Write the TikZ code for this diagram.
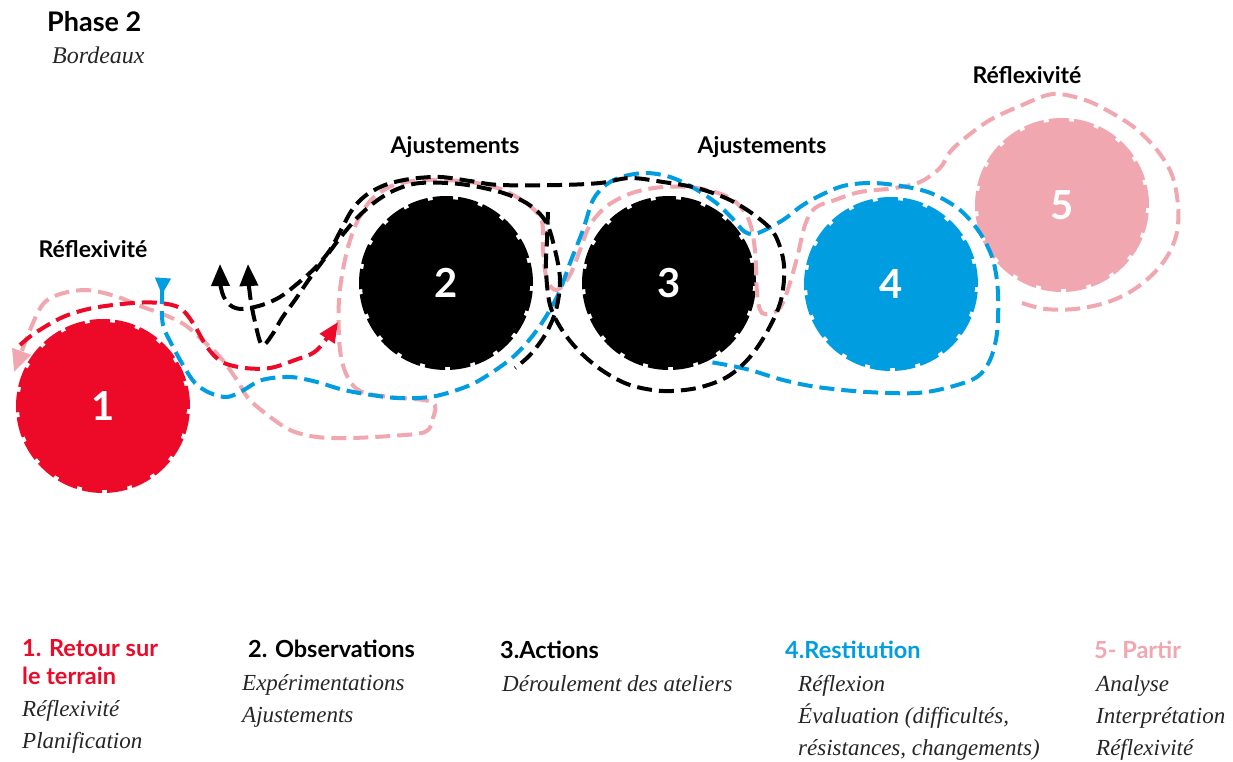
\documentclass[tikz,border=0pt]{standalone}
\usepackage{fontspec}
\setsansfont{Lato}
\setmainfont{Liberation Serif}
\usetikzlibrary{arrows.meta}
\definecolor{stageRed}{RGB}{237,9,40}
\definecolor{stageBlue}{RGB}{0,158,224}
\definecolor{stagePink}{RGB}{241,167,176}
\colorlet{ink}{black}
\tikzset{
  stage/.style={
    circle,
    inner sep=0pt,
    minimum size=168pt,
    line width=6pt,
    dash pattern=on 20pt off 5pt,
    text=white,
    font=\sffamily\bfseries\fontsize{40}{40}\selectfont
  },
  trail/.style={line width=4pt, dash pattern=on 15pt off 7pt},
  headlabel/.style={font=\sffamily\bfseries\fontsize{23}{27}\selectfont, text=ink},
  steptitle/.style={anchor=base west, inner xsep=0pt, font=\sffamily\bfseries\fontsize{23.5}{28}\selectfont},
  stepitem/.style={anchor=base west, inner xsep=0pt, font=\itshape\fontsize{23}{28}\selectfont, text=ink!85}
}

\begin{document}
\begin{tikzpicture}[x=1pt,y=-1pt]
  \useasboundingbox[fill=white] (0,0) rectangle (1233,762);

  % title
  \node[anchor=base west, inner xsep=0pt, font=\sffamily\bfseries\fontsize{27}{32}\selectfont] (phase) at (47,32) {Phase 2};
  \node[anchor=base west, inner xsep=0pt, font=\itshape\fontsize{24}{28}\selectfont, text=ink!85] (city) at (52,64) {Bordeaux};

  % stages
  \node[stage, fill=stageRed, draw=stageRed] (s1) at (103,406) {1};
  \node[stage, fill=black, draw=black] (s2) at (446,283) {2};
  \node[stage, fill=black, draw=black] (s3) at (669,283) {3};
  \node[stage, fill=stageBlue, draw=stageBlue] (s4) at (891,284) {4};
  \node[stage, fill=stagePink, draw=stagePink] (s5) at (1062,205) {5};

  \node[headlabel] (refl1) at (93,249) {Réflexivité};
  \node[headlabel] (adj1) at (455,147) {Ajustements};
  \node[headlabel] (adj2) at (762,147) {Ajustements};
  \node[headlabel] (refl2) at (1027,75) {Réflexivité};

  % trails
  \draw[trail, stagePink, -{Triangle[length=22pt,width=19pt]}] plot[smooth, tension=0.55] coordinates {
    (1022,303) (1045,309) (1075,309) (1105,303) (1130,292) (1152,275) (1168,255)
    (1177,232) (1178,205) (1172,175) (1157,150) (1135,128) (1110,112) (1085,100)
    (1053,94) (1020,106) (990,120) (965,138) (950,152) (940,168) (920,182) (895,188)
    (860,192) (835,200) (815,208) (805,225) (797,258) (787,292) (778,310) (762,313)
    (757,292) (755,250) (748,218) (730,198) (697,188) (663,187) (632,193) (607,206)
    (590,225) (580,250) (570,275) (557,290) (547,280) (543,250) (542,222) (530,206)
    (503,190) (470,182) (430,180) (397,184) (373,198) (357,222) (346,255) (339,300)
    (340,350) (348,378) (362,392) (390,397) (432,402) (433,418) (425,432) (390,436)
    (350,438) (317,437) (290,430) (265,413) (248,398) (237,380) (220,357) (200,338)
    (185,325) (165,315) (140,306) (115,296) (85,290) (55,296) (38,312) (14,372)};

  \draw[trail, stageRed, -{Triangle[length=20pt,width=17pt]}] plot[smooth, tension=0.55] coordinates {
    (20,345) (35,333) (63,317) (93,308) (133,303) (160,303) (180,308) (193,323)
    (207,347) (222,362) (245,368) (270,368) (295,360) (317,350) (338,322)};

  \draw[trail, stageBlue, {Triangle[reversed,length=17pt,width=15pt]}-] plot[smooth, tension=0.55] coordinates {
    (163,278) (162,300) (163,325) (172,345) (183,365) (195,383) (210,393) (227,397)
    (242,391) (262,380) (290,377) (317,382) (340,389) (365,394) (397,398) (430,397)
    (457,390) (480,380) (513,357) (537,330) (557,297) (570,263) (583,230) (593,200)
    (607,184) (625,176) (647,173) (670,177) (692,187) (715,202) (732,218) (745,232)
    (758,233) (783,220) (800,207) (817,197) (843,186) (873,183) (907,187) (933,194)
    (960,210) (980,233) (993,260) (998,293) (997,333) (990,360) (977,377) (950,387)
    (917,393) (867,392) (817,387) (783,380) (750,370) (727,365) (710,362)};

  \draw[trail, ink, {Triangle[length=22pt,width=18pt]}-] plot[smooth, tension=0.55] coordinates {
    (220,264) (222,292) (230,305) (242,309) (262,305) (280,297) (297,284) (315,268)
    (330,250) (342,228) (352,210) (365,196) (385,185) (410,179) (440,177) (470,181)
    (500,185) (560,185) (600,183) (630,178) (663,182) (697,188) (730,200) (757,217)
    (775,235) (784,265) (781,300) (768,330) (750,357) (727,377) (697,388) (663,391)
    (630,385) (603,371) (580,352) (562,330) (550,305) (546,270) (547,240) (548,212)};

  \draw[trail, ink, {Triangle[length=22pt,width=18pt]}-] plot[smooth, tension=0.55] coordinates {
    (248,264) (250,295) (255,322) (262,345) (272,335) (282,318) (295,300) (310,278)
    (325,258) (340,238) (357,218) (375,202) (395,190) (420,183) (460,184) (500,192)
    (528,204) (546,222) (555,250) (560,280) (556,310) (545,335) (530,355) (515,368)};

  % legend
  \node[steptitle, text=stageRed] (t1) at (22,656) {1. Retour sur};
  \node[steptitle, text=stageRed] (t1b) at (22,684) {le terrain};
  \node[stepitem] (i1a) at (22,716) {Réflexivité};
  \node[stepitem] (i1b) at (22,748) {Planification};

  \node[steptitle, text=ink] (t2) at (248,657) {2. Observations};
  \node[stepitem] (i2a) at (242,690) {Expérimentations};
  \node[stepitem] (i2b) at (242,722) {Ajustements};

  \node[steptitle, text=ink] (t3) at (500,658) {3.Actions};
  \node[stepitem] (i3a) at (502,691) {Déroulement des ateliers};

  \node[steptitle, text=stageBlue] (t4) at (785,658) {4.Restitution};
  \node[stepitem] (i4a) at (798,691) {Réflexion};
  \node[stepitem] (i4b) at (798,723) {Évaluation (difficultés,};
  \node[stepitem] (i4c) at (798,755) {résistances, changements)};

  \node[steptitle, text=stagePink] (t5) at (1094,658) {5- Partir};
  \node[stepitem] (i5a) at (1096,691) {Analyse};
  \node[stepitem] (i5b) at (1096,723) {Interprétation};
  \node[stepitem] (i5c) at (1096,755) {Réflexivité};
\end{tikzpicture}
\end{document}
